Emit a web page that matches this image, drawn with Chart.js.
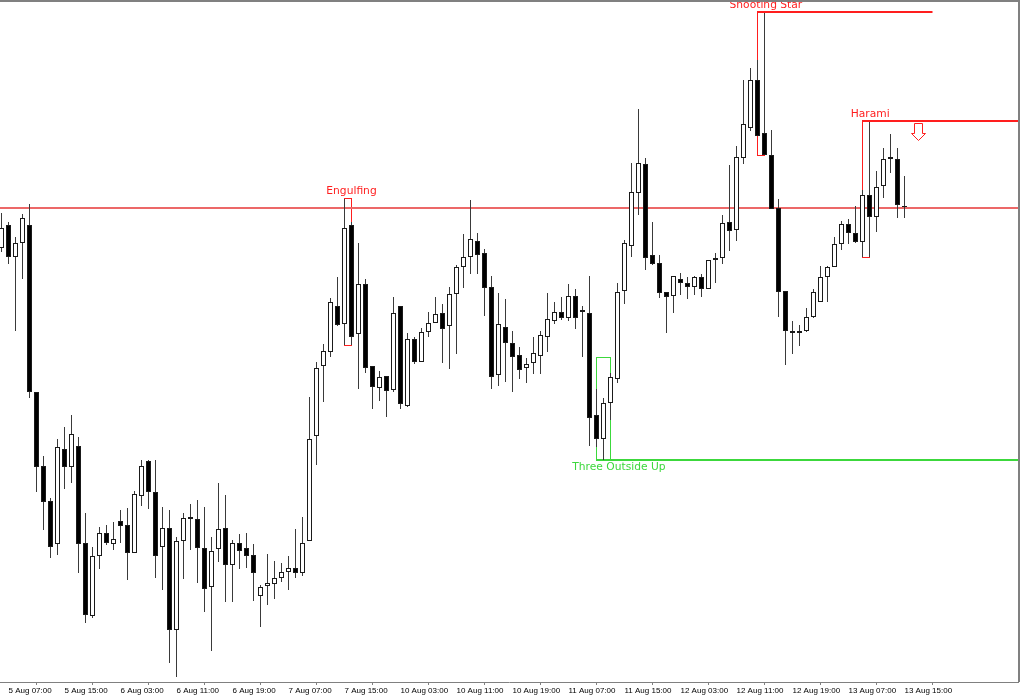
<!DOCTYPE html>
<html>
<head>
<meta charset="utf-8">
<title>Candlestick patterns</title>
<script src="https://cdn.jsdelivr.net/npm/chart.js@4/dist/chart.umd.min.js"></script>
<style>
  html, body { margin: 0; padding: 0; background: #ffffff; }
  #chart { display: block; }
</style>
</head>
<body>
<canvas id="chart" width="1020" height="700"></canvas>
<script>
/*
    H1 CANDLES WITH PATTERN MARKS
*/

// candle prices (points), one entry per hourly bar
const candleOpen = [
  452, 475, 443, 457, 475, 308, 234, 199, 156, 251,
  233, 254, 157, 84, 144, 167, 156, 179, 175, 147,
  204, 239, 208, 153, 172, 70, 159, 183, 181, 152,
  113, 151, 172, 135, 157, 152, 145, 104, 114, 116,
  122, 128, 132, 127, 159, 264, 334, 348, 394, 376,
  475, 366, 416, 334, 312, 324, 310, 394, 294, 361,
  338, 368, 377, 387, 374, 406, 433, 443, 459, 447,
  413, 325, 373, 357, 345, 332, 337, 344, 363, 379,
  388, 382, 404, 388, 387, 285, 261, 297, 321, 409,
  454, 507, 536, 445, 437, 408, 404, 421, 417, 413,
  423, 411, 440, 442, 478, 470, 542, 572, 620, 567,
  545, 492, 409, 369, 367, 369, 383, 398, 423, 433,
  456, 476, 467, 458, 505, 483, 514, 541, 541, 493
];
const candleHigh = [
  487, 478, 463, 486, 496, 308, 244, 202, 261, 273,
  285, 263, 187, 153, 173, 175, 178, 190, 192, 209,
  240, 240, 240, 193, 190, 163, 187, 196, 200, 193,
  163, 217, 205, 160, 166, 167, 156, 115, 146, 139,
  137, 144, 171, 183, 303, 338, 356, 402, 423, 501,
  478, 457, 421, 334, 329, 324, 403, 394, 367, 363,
  372, 388, 403, 396, 413, 435, 466, 500, 467, 451,
  424, 407, 401, 369, 353, 342, 363, 369, 407, 398,
  403, 416, 411, 394, 424, 311, 302, 327, 417, 460,
  537, 591, 542, 478, 445, 408, 424, 427, 423, 424,
  426, 440, 447, 485, 535, 554, 620, 632, 640, 687,
  570, 501, 409, 379, 375, 392, 411, 434, 434, 463,
  479, 481, 494, 510, 578, 529, 552, 566, 552, 524
];
const candleLow = [
  448, 436, 369, 421, 302, 208, 170, 142, 145, 211,
  217, 127, 77, 82, 131, 155, 150, 157, 120, 147,
  194, 191, 122, 110, 37, 23, 121, 150, 117, 88,
  49, 138, 98, 98, 131, 132, 99, 73, 95, 101,
  118, 110, 122, 124, 159, 235, 298, 343, 374, 355,
  355, 311, 327, 291, 299, 283, 308, 291, 293, 336,
  338, 363, 377, 337, 331, 346, 412, 426, 426, 384,
  311, 314, 318, 308, 321, 317, 326, 326, 348, 376,
  380, 379, 371, 343, 254, 253, 240, 280, 317, 396,
  443, 485, 430, 435, 402, 367, 387, 405, 401, 405,
  403, 411, 417, 436, 449, 459, 536, 569, 564, 545,
  491, 383, 335, 346, 354, 368, 382, 398, 398, 433,
  450, 456, 457, 443, 443, 468, 502, 527, 482, 482
];
const candleClose = [
  472, 443, 457, 482, 308, 233, 198, 153, 253, 233,
  266, 156, 85, 144, 167, 157, 161, 174, 147, 206,
  234, 208, 144, 172, 70, 159, 182, 181, 152, 111,
  149, 171, 135, 157, 149, 144, 127, 113, 117, 122,
  128, 132, 127, 157, 261, 332, 349, 398, 375, 472,
  363, 416, 332, 313, 323, 309, 387, 296, 361, 338,
  368, 377, 386, 371, 406, 433, 443, 461, 445, 412,
  323, 376, 357, 343, 330, 336, 347, 365, 381, 388,
  382, 404, 382, 390, 282, 261, 297, 323, 408, 457,
  508, 537, 442, 436, 407, 403, 424, 417, 413, 423,
  411, 440, 442, 477, 469, 543, 576, 620, 564, 545,
  491, 408, 369, 367, 369, 383, 408, 423, 433, 456,
  476, 467, 458, 505, 483, 513, 541, 543, 495, 493
];

// time axis: a label every 8 bars
const tickIndex = [1, 9, 17, 25, 33, 41, 49, 57, 65, 73, 81, 89, 97, 105, 113, 121, 129];
const tickLabels = [
  '5 Aug 07:00', '5 Aug 15:00', '6 Aug 03:00', '6 Aug 11:00', '6 Aug 19:00',
  '7 Aug 07:00', '7 Aug 15:00', '10 Aug 03:00', '10 Aug 11:00', '10 Aug 19:00',
  '11 Aug 07:00', '11 Aug 15:00', '12 Aug 03:00', '12 Aug 11:00', '12 Aug 19:00',
  '13 Aug 07:00', '13 Aug 15:00'
];

// recognised patterns (bar indexes and price levels)
const patternNames = ['Engulfing', 'Three Outside Up', 'Shooting Star', 'Harami'];
const patternFrom = [49, 85, 108, 123];
const patternTo = [50, 87, 109, 124];
const patternHigh = [501, 343, 687, 578];
const patternLow = [355, 240, 545, 443];
const patternBullish = [false, true, false, false];
const patternLineEnd = [null, Infinity, 133, Infinity];
const patternLabelAt = [50, 88.2, 109.2, 124.1];

// sell arrow and bid line
const arrowIndex = 131;
const arrowPrice = 576;
const bidPrice = 492;

//styles
const RED = '#ff1e1e';
const GREEN = '#3cd83c';
const FRAME = '#808080';
const SLOT = 7;                      // pixels per bar
const xMin = -1.5 / SLOT;
const xMax = xMin + 1018 / SLOT;

const candleIndex = candleOpen.map((_, i) => i);

//draw the pattern boxes, level lines and labels under the candles
const patternPlugin = {
  id: 'patterns',
  beforeDatasetsDraw(chart) {
    const { ctx, chartArea, scales } = chart;
    const x = scales.x, y = scales.y;
    const px = v => Math.floor(v) + 0.5;

    ctx.save();
    ctx.beginPath();
    ctx.rect(chartArea.left, chartArea.top, chartArea.right - chartArea.left, chartArea.bottom - chartArea.top);
    ctx.clip();
    ctx.font = '10.7px "DejaVu Sans"';
    ctx.textAlign = 'center';
    ctx.textBaseline = 'middle';

    patternNames.forEach((name, i) => {
      const color = patternBullish[i] ? GREEN : RED;
      const x0 = px(x.getPixelForValue(patternFrom[i]));
      const x1 = px(x.getPixelForValue(patternTo[i]));
      const yTop = px(y.getPixelForValue(patternHigh[i]));
      const yBot = px(y.getPixelForValue(patternLow[i]));
      ctx.strokeStyle = color;
      ctx.fillStyle = color;
      ctx.lineWidth = 1;
      ctx.strokeRect(x0, yTop, x1 - x0, yBot - yTop);

      const level = patternBullish[i] ? yBot : yTop;
      if (patternLineEnd[i] !== null) {
        const xe = patternLineEnd[i] === Infinity ? chartArea.right : px(x.getPixelForValue(patternLineEnd[i]));
        ctx.lineWidth = 2;
        ctx.beginPath();
        ctx.moveTo(x0 - 0.5, Math.floor(level));
        ctx.lineTo(xe, Math.floor(level));
        ctx.stroke();
      }
      const ty = patternBullish[i] ? level + 7 : level - 7;
      ctx.fillText(name, x.getPixelForValue(patternLabelAt[i]), ty);
    });

    // hollow down arrow
    const cx = px(x.getPixelForValue(arrowIndex));
    const ay = px(y.getPixelForValue(arrowPrice));
    ctx.lineWidth = 1;
    ctx.beginPath();
    ctx.moveTo(cx - 4, ay);
    ctx.lineTo(cx + 4, ay);
    ctx.lineTo(cx + 4, ay + 10);
    ctx.lineTo(cx + 7, ay + 10);
    ctx.lineTo(cx, ay + 17);
    ctx.lineTo(cx - 7, ay + 10);
    ctx.lineTo(cx - 4, ay + 10);
    ctx.closePath();
    ctx.fillStyle = '#ffffff';
    ctx.fill();
    ctx.strokeStyle = RED;
    ctx.stroke();
    ctx.restore();
  },
  afterDraw(chart) {
    const { ctx, chartArea } = chart;
    ctx.save();
    ctx.strokeStyle = FRAME;
    ctx.lineWidth = 2;
    ctx.beginPath();
    ctx.moveTo(0, 1);
    ctx.lineTo(chart.width, 1);
    ctx.moveTo(chart.width - 1, 0);
    ctx.lineTo(chart.width - 1, chartArea.bottom);
    ctx.stroke();
    ctx.restore();
  }
};

const ctx = document.getElementById('chart').getContext('2d');
const myChart = new Chart(ctx, {
  data: {
    datasets: [
      {
        type: 'bar',
        label: 'Body',
        data: candleIndex.map(i => ({ x: i, y: [candleOpen[i], candleClose[i]] })),
        backgroundColor: candleIndex.map(i => candleClose[i] > candleOpen[i] ? '#ffffff' : '#000000'),
        borderColor: '#1a1a1a',
        borderWidth: 1,
        borderSkipped: false,
        barThickness: 5,
        minBarLength: 1,
        grouped: false,
        inflateAmount: 0,
        order: 0
      },
      {
        type: 'bar',
        label: 'Wick',
        data: candleIndex.map(i => ({ x: i, y: [candleLow[i], candleHigh[i]] })),
        backgroundColor: '#3a3a3a',
        borderWidth: 0,
        barThickness: 1,
        grouped: false,
        inflateAmount: 0,
        order: 1
      },
      {
        type: 'line',
        label: 'Bid',
        data: [{ x: xMin, y: bidPrice }, { x: xMax, y: bidPrice }],
        borderColor: 'rgb(236, 104, 104)',
        borderWidth: 2,
        pointRadius: 0,
        order: 2
      }
    ]
  },
  options: {
    responsive: false,
    animation: false,
    layout: { padding: { left: 0, right: 2, top: 0, bottom: 0 } },
    plugins: {
      legend: { display: false },
      tooltip: { enabled: false }
    },
    scales: {
      x: {
        type: 'linear',
        min: xMin,
        max: xMax,
        bounds: 'data',
        offset: false,
        afterFit: scale => { scale.height = 18; },
        afterBuildTicks: scale => { scale.ticks = tickIndex.map(v => ({ value: v })); },
        ticks: {
          autoSkip: false,
          maxRotation: 0,
          minRotation: 0,
          align: 'start',
          padding: 1,
          color: '#000000',
          font: { family: 'Liberation Sans', size: 8 },
          callback: (value, index) => tickLabels[index]
        },
        grid: { drawOnChartArea: false, drawTicks: true, tickLength: 3, color: FRAME },
        border: { display: true, color: FRAME, width: 1 }
      },
      y: { display: false, min: 18, max: 700 }
    }
  },
  plugins: [patternPlugin]
});
</script>
</body>
</html>
